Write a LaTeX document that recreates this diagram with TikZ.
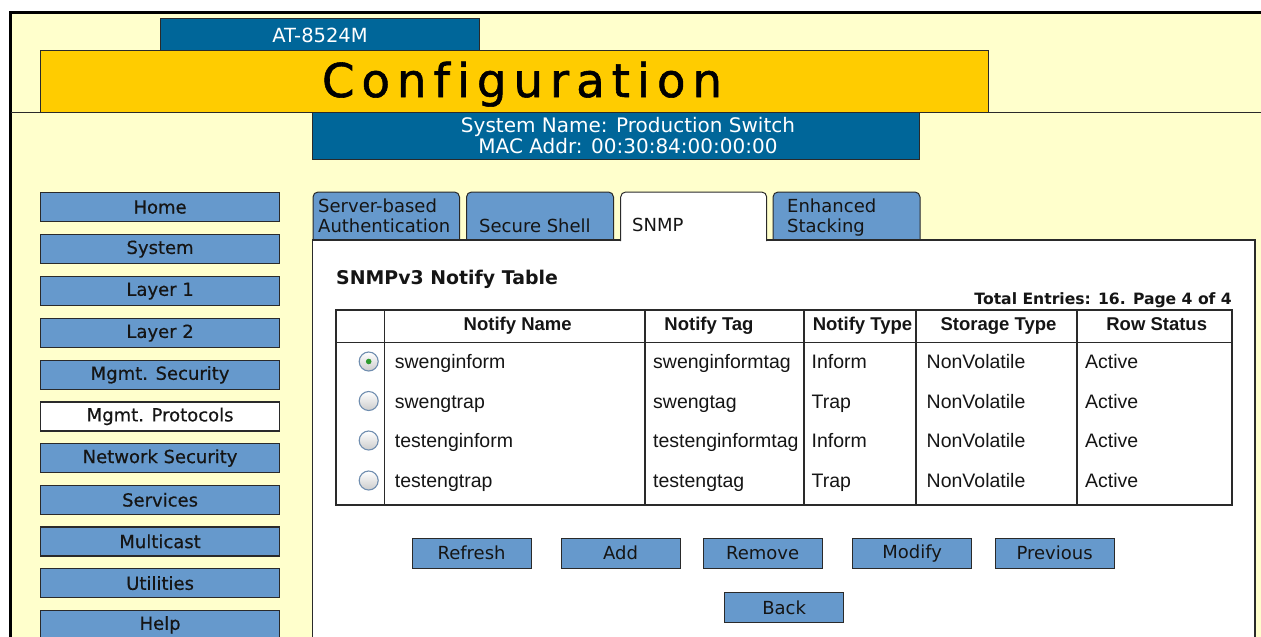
\documentclass[tikz,border=0pt]{standalone}
\usepackage{fontspec}
\setmainfont{DejaVu Sans}
\newfontfamily\arialfont{Liberation Sans}
\newfontfamily\heavyui[FakeBold=0.5]{DejaVu Sans}
\newfontfamily\bannerfont[FakeBold=1.2]{DejaVu Sans}

\definecolor{pagebg}{HTML}{FFFFCC}
\definecolor{gold}{HTML}{FFCC00}
\definecolor{deepblue}{HTML}{006699}
\definecolor{navblue}{HTML}{6699CC}
\definecolor{edge}{HTML}{2A2A2A}
\definecolor{ink}{HTML}{151515}
\definecolor{radioedge}{HTML}{6F8DAF}
\definecolor{radiodot}{HTML}{2E9A2E}

\newcommand\cfgword{C\kern7pt o\kern7pt n\kern7pt f\kern7pt i\kern7pt g\kern7pt u\kern7pt r\kern7pt a\kern7pt t\kern7pt i\kern7pt o\kern7pt n}

\tikzset{
  navbtn/.style={draw=edge, line width=1.2pt, fill=navblue, anchor=north west,
    minimum width=239pt, minimum height=29pt, inner sep=0pt, text=ink,
    font=\heavyui\fontsize{18}{20}\selectfont},
  navsel/.style={navbtn, fill=white},
  actbtn/.style={draw=edge, line width=1.2pt, fill=navblue, anchor=north west,
    minimum width=119pt, minimum height=30pt, inner sep=0pt, text=ink,
    font=\fontsize{18}{20}\selectfont},
  tabshape/.style={draw=edge, line width=1pt, fill=navblue, rounded corners=5pt},
  tablabel/.style={anchor=base west, inner sep=0pt, text=ink,
    font=\fontsize{18}{20}\selectfont},
  headcell/.style={anchor=base, inner sep=0pt, text=ink,
    font=\arialfont\bfseries\fontsize{18.5}{20}\selectfont},
  datacell/.style={anchor=base west, inner sep=0pt, text=ink,
    font=\arialfont\fontsize{19.5}{21}\selectfont},
  radio/.style={circle, draw=radioedge, line width=1.1pt, minimum size=19pt,
    inner sep=0pt, top color=white, bottom color=black!20},
  gridline/.style={draw=edge, line width=1.3pt},
}

\begin{document}
\begin{tikzpicture}[x=1pt, y=-1pt]
\useasboundingbox (0,0) rectangle (1261,637);
\clip (0,0) rectangle (1261,637);

% page background and frame
\fill[white] (0,0) rectangle (1261,637);
\fill[pagebg] (11,12) rectangle (1261,637);
\draw[black, line width=2.6pt] (10.7,640) -- (10.7,12.2) -- (1265,12.2);

% header banners
\draw[edge, line width=1pt] (11,112) -- (1261,112);
\node[draw=edge, line width=1pt, fill=deepblue, anchor=north west,
  minimum width=319pt, minimum height=32pt, inner sep=0pt] (model) at (160,18) {};
\node[anchor=base, inner sep=0pt, text=white, font=\fontsize{19.5}{20}\selectfont]
  (modeltxt) at (320,42) {AT-8524M};
\node[draw=edge, line width=1pt, fill=gold, anchor=north west,
  minimum width=948pt, minimum height=62pt, inner sep=0pt] (banner) at (40,50) {};
\node[anchor=base, inner sep=0pt, text=black, font=\bannerfont\fontsize{46.6}{50}\selectfont]
  (bannertxt) at (522,97) {\cfgword};
\node[draw=edge, line width=1pt, fill=deepblue, anchor=north west,
  minimum width=607pt, minimum height=47pt, inner sep=0pt] (sysbox) at (312,112) {};
\node[anchor=base, inner sep=0pt, text=white, font=\fontsize{20}{21}\selectfont]
  (sysname) at (628,132) {System Name: Production Switch};
\node[anchor=base, inner sep=0pt, text=white, font=\fontsize{20}{21}\selectfont]
  (sysmac) at (628,153) {MAC Addr: 00:30:84:00:00:00};

% navigation column
\node[navbtn] (nHome) at (40,192) {Home};
\node[navbtn] (nSystem) at (40,234) {System};
\node[navbtn] (nLayerA) at (40,276) {Layer 1};
\node[navbtn] (nLayerB) at (40,318) {Layer 2};
\node[navbtn] (nMsec) at (40,359.7) {Mgmt. Security};
\node[navsel] (nMprot) at (40,401.3) {Mgmt. Protocols};
\node[navbtn] (nNetsec) at (40,443) {Network Security};
\node[navbtn] (nServ) at (40,484.7) {Services};
\node[navbtn] (nMcast) at (40,526.3) {Multicast};
\node[navbtn] (nUtil) at (40,568) {Utilities};
\node[navbtn] (nHelp) at (40,609.7) {Help};

% tabs behind the panel
\draw[tabshape] (313,240) -- (313,192) -- (459.5,192) -- (459.5,240);
\draw[tabshape] (466.5,240) -- (466.5,192) -- (613.5,192) -- (613.5,240);
\draw[tabshape] (773,240) -- (773,192) -- (920,192) -- (920,240);

% content panel
\draw[edge, line width=1.2pt, fill=white] (312.5,240) rectangle (1255,660);

% active tab merges with the panel
\path[fill=white, draw=edge, line width=1pt, rounded corners=5pt]
  (620.7,241) -- (620.7,192) -- (766.7,192) -- (766.7,241);

\node[tablabel] (tabA1) at (318,212) {Server-based};
\node[tablabel] (tabA2) at (318,232) {Authentication};
\node[tablabel] (tabB) at (479,232) {Secure Shell};
\node[tablabel] (tabC) at (632,231) {SNMP};
\node[tablabel] (tabD1) at (787,212) {Enhanced};
\node[tablabel] (tabD2) at (787,232) {Stacking};

% panel heading
\node[anchor=base west, inner sep=0pt, text=ink,
  font=\bfseries\fontsize{18.9}{20}\selectfont] (title) at (336,284) {SNMPv3 Notify Table};
\node[anchor=base east, inner sep=0pt, text=ink,
  font=\bfseries\fontsize{15.6}{17}\selectfont] (total) at (1232,304)
  {Total Entries: 16. Page 4 of 4};

% notify table grid
\draw[gridline] (336,310) rectangle (1232,505);
\draw[gridline] (336,342.5) -- (1232,342.5);
\foreach \cx in {384.5,645,804,916,1077}
  \draw[gridline] (\cx,310) -- (\cx,505);

% header row
\node[headcell] (hName) at (517.7,330) {Notify Name};
\node[headcell] (hTag) at (709,330) {Notify Tag};
\node[headcell] (hType) at (862.5,330) {Notify Type};
\node[headcell] (hStore) at (998.5,330) {Storage Type};
\node[headcell] (hRow) at (1156.7,330) {Row Status};

% row selectors
\node[radio] (rA) at (368.7,361.5) {};
\fill[radiodot] (rA.center) circle (2.8pt);
\node[radio] (rB) at (368.7,401) {};
\node[radio] (rC) at (368.7,440.5) {};
\node[radio] (rD) at (368.7,480.5) {};

% data rows
\node[datacell] (a1) at (394.7,368) {swenginform};
\node[datacell] (a2) at (653,368) {swenginformtag};
\node[datacell] (a3) at (811.5,368) {Inform};
\node[datacell] (a4) at (926.5,368) {NonVolatile};
\node[datacell] (a5) at (1085,368) {Active};

\node[datacell] (b1) at (394.7,408) {swengtrap};
\node[datacell] (b2) at (653,408) {swengtag};
\node[datacell] (b3) at (811.5,408) {Trap};
\node[datacell] (b4) at (926.5,408) {NonVolatile};
\node[datacell] (b5) at (1085,408) {Active};

\node[datacell] (c1) at (394.7,447.5) {testenginform};
\node[datacell] (c2) at (653,447.5) {testenginformtag};
\node[datacell] (c3) at (811.5,447.5) {Inform};
\node[datacell] (c4) at (926.5,447.5) {NonVolatile};
\node[datacell] (c5) at (1085,447.5) {Active};

\node[datacell] (d1) at (394.7,487.5) {testengtrap};
\node[datacell] (d2) at (653,487.5) {testengtag};
\node[datacell] (d3) at (811.5,487.5) {Trap};
\node[datacell] (d4) at (926.5,487.5) {NonVolatile};
\node[datacell] (d5) at (1085,487.5) {Active};

% action buttons
\node[actbtn] (bRefresh) at (411.5,537.5) {Refresh};
\node[actbtn] (bAdd) at (560.5,537.5) {Add};
\node[actbtn] (bRemove) at (702.5,537.5) {Remove};
\node[actbtn] (bModify) at (852,537.5) {Modify};
\node[actbtn] (bPrev) at (994.5,537.5) {Previous};
\node[actbtn] (bBack) at (724,592) {Back};
\end{tikzpicture}
\end{document}
